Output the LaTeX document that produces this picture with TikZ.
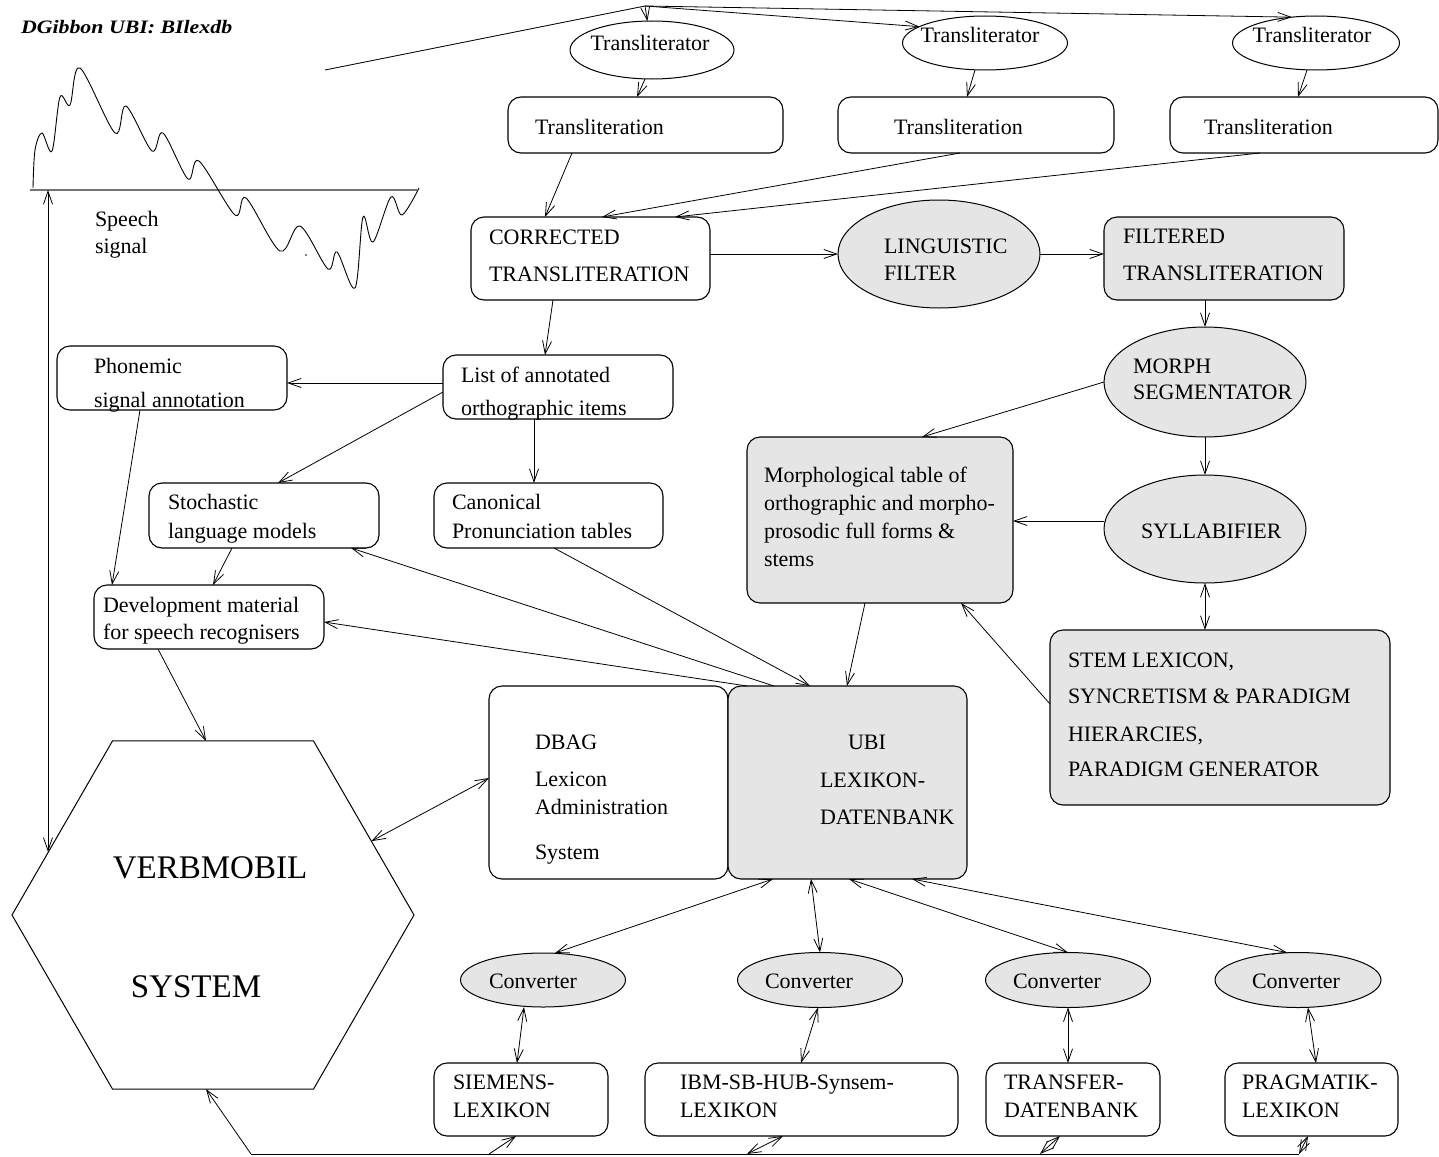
\documentclass[tikz,border=0pt]{standalone}
\usepackage{fontspec}
\setmainfont{Liberation Serif}
\newfontfamily\titlefont[FakeStretch=1.15]{Liberation Serif}
\usetikzlibrary{arrows.meta,shapes.geometric,calc}

\begin{document}
\begin{tikzpicture}[x=1pt,y=-1pt,
  every node/.style={inner sep=0pt,outer sep=0pt},
  >={Straight Barb[length=13pt,width=9pt]},
  conn/.style={line width=0.8pt},
  box/.style={draw,rectangle,rounded corners=13pt,line width=1.1pt},
  shaded/.style={fill=black!10},
  oval/.style={draw,ellipse,line width=1pt},
  txt/.style={anchor=west,font=\fontsize{22pt}{26pt}\selectfont,text height=16pt,text depth=4pt},
  ctxt/.style={anchor=center,font=\fontsize{22pt}{26pt}\selectfont,text height=16pt,text depth=4pt},
  bigtxt/.style={anchor=center,font=\fontsize{33pt}{38pt}\selectfont},
]
\useasboundingbox (0,0) rectangle (1439,1156);

% ---------- title ----------
\node[anchor=west,font=\fontsize{19pt}{22pt}\selectfont\titlefont\bfseries\itshape] (title) at (21,27) {DGibbon UBI: BIlexdb};

% ---------- speech signal ----------
\coordinate (sigL) at (30,190);
\coordinate (sigR) at (417,190);
\coordinate (sig) at (48,190);
\draw[line width=2pt,black!55] (sigL) -- (sigR);
\draw[line width=0.9pt] plot[smooth,tension=0.55] coordinates {
  (33,188) (35,150) (42,133) (52,151) (60,97) (70,105) (80,68) (115,133) (126,106)
  (152,151) (163,133) (188,179) (199,161) (235,215) (246,198) (280,251) (300,226)
  (328,269) (337,252) (355,288) (363,217) (373,242) (391,197) (402,215) (419,188)};
\fill (306,255) circle (0.9pt);
\node[txt] (x-sp1) at (95,220) {Speech};
\node[txt] (x-sp2) at (95,247) {signal};

% ---------- ellipses ----------
\node[oval,minimum width=164pt,minimum height=58pt] (tr1) at (652,50) {};
\node[oval,minimum width=165pt,minimum height=54pt] (tr2) at (985,43) {};
\node[oval,minimum width=167pt,minimum height=54pt] (tr3) at (1316,43) {};
\node[oval,shaded,minimum width=202pt,minimum height=108pt] (ling) at (939,254) {};
\node[oval,shaded,minimum width=202pt,minimum height=110pt] (morph) at (1205,382) {};
\node[oval,shaded,minimum width=202pt,minimum height=108pt] (syl) at (1205,529) {};
\node[oval,shaded,minimum width=165pt,minimum height=54pt] (cv1) at (543,980) {};
\node[oval,shaded,minimum width=165pt,minimum height=55pt] (cv2) at (820,980) {};
\node[oval,shaded,minimum width=165pt,minimum height=55pt] (cv3) at (1068,980) {};
\node[oval,shaded,minimum width=166pt,minimum height=55pt] (cv4) at (1298,980) {};

% ---------- rounded boxes ----------
\node[box,minimum width=275pt,minimum height=56pt] (tl1) at (645.5,125) {};
\node[box,minimum width=276pt,minimum height=56pt] (tl2) at (976,125) {};
\node[box,minimum width=268pt,minimum height=56pt] (tl3) at (1304,125) {};
\node[box,minimum width=239pt,minimum height=83pt] (corr) at (590.5,258.5) {};
\node[box,shaded,minimum width=240pt,minimum height=83pt] (filt) at (1224,258.5) {};
\node[box,minimum width=230pt,minimum height=64pt] (list) at (558,387) {};
\node[box,minimum width=230pt,minimum height=64pt] (phon) at (172,378) {};
\node[box,minimum width=230pt,minimum height=65pt] (stoch) at (264,515.5) {};
\node[box,minimum width=229pt,minimum height=65pt] (canon) at (548.5,515.5) {};
\node[box,minimum width=230pt,minimum height=64pt] (dev) at (209,617) {};
\node[box,shaded,minimum width=266pt,minimum height=166pt] (mtab) at (880,520) {};
\node[box,shaded,minimum width=340pt,minimum height=175pt] (stem) at (1220,717.5) {};
\node[box,minimum width=239pt,minimum height=193pt] (dbag) at (608.5,782.5) {};
\node[box,shaded,minimum width=239pt,minimum height=193pt] (ubi) at (847.5,782.5) {};
\node[box,minimum width=174pt,minimum height=73pt] (siem) at (521,1099.5) {};
\node[box,minimum width=313pt,minimum height=73pt] (ibm) at (801.5,1099.5) {};
\node[box,minimum width=174pt,minimum height=73pt] (trans) at (1073,1099.5) {};
\node[box,minimum width=173pt,minimum height=73pt] (prag) at (1311.5,1099.5) {};

% ---------- hexagon ----------
\node[draw,regular polygon,regular polygon sides=6,minimum size=402pt,line width=1pt] (vm) at (213,915) {};

% ---------- texts ----------
\node[ctxt] (x-tr1) at (650,45) {Transliterator};
\node[ctxt] (x-tr2) at (980,36) {Transliterator};
\node[ctxt] (x-tr3) at (1312,36) {Transliterator};
\node[txt] (x-tl1) at (535,128) {Transliteration};
\node[txt] (x-tl2) at (894,128) {Transliteration};
\node[txt] (x-tl3) at (1204,128) {Transliteration};
\node[txt] (x-corr1) at (489,238) {CORRECTED};
\node[txt] (x-corr2) at (489,275) {TRANSLITERATION};
\node[txt] (x-ling1) at (884,247) {LINGUISTIC};
\node[txt] (x-ling2) at (884,274) {FILTER};
\node[txt] (x-filt1) at (1123,237) {FILTERED};
\node[txt] (x-filt2) at (1123,274) {TRANSLITERATION};
\node[txt] (x-morph1) at (1133,367) {MORPH};
\node[txt] (x-morph2) at (1133,393) {SEGMENTATOR};
\node[txt] (x-syl) at (1141,532) {SYLLABIFIER};
\node[txt] (x-list1) at (461,376) {List of annotated};
\node[txt] (x-list2) at (461,409) {orthographic items};
\node[txt] (x-phon1) at (94,367) {Phonemic};
\node[txt] (x-phon2) at (94,401) {signal annotation};
\node[txt] (x-stoch1) at (168,503) {Stochastic};
\node[txt] (x-stoch2) at (168,532) {language models};
\node[txt] (x-canon1) at (452,503) {Canonical};
\node[txt] (x-canon2) at (452,532) {Pronunciation tables};
\node[txt] (x-dev1) at (103,606) {Development material};
\node[txt] (x-dev2) at (103,633) {for speech recognisers};
\node[txt] (x-mtab1) at (764,476) {Morphological table of};
\node[txt] (x-mtab2) at (764,504) {orthographic and morpho-};
\node[txt] (x-mtab3) at (764,532) {prosodic full forms \&};
\node[txt] (x-mtab4) at (764,560) {stems};
\node[txt] (x-stem1) at (1068,661) {STEM LEXICON,};
\node[txt] (x-stem2) at (1068,697) {SYNCRETISM \& PARADIGM};
\node[txt] (x-stem3) at (1068,735) {HIERARCIES,};
\node[txt] (x-stem4) at (1068,770) {PARADIGM GENERATOR};
\node[txt] (x-ubi1) at (848,743) {UBI};
\node[txt] (x-ubi2) at (820,781) {LEXIKON-};
\node[txt] (x-ubi3) at (820,818) {DATENBANK};
\node[txt] (x-dbag1) at (535,743) {DBAG};
\node[txt] (x-dbag2) at (535,780) {Lexicon};
\node[txt] (x-dbag3) at (535,808) {Administration};
\node[txt] (x-dbag4) at (535,853) {System};
\node[bigtxt] (x-vm1) at (210,868) {VERBMOBIL};
\node[bigtxt] (x-vm2) at (196,987) {SYSTEM};
\node[ctxt] (x-cv1) at (533,982) {Converter};
\node[ctxt] (x-cv2) at (809,982) {Converter};
\node[ctxt] (x-cv3) at (1057,982) {Converter};
\node[ctxt] (x-cv4) at (1296,982) {Converter};
\node[txt] (x-siem1) at (453,1083) {SIEMENS-};
\node[txt] (x-siem2) at (453,1111) {LEXIKON};
\node[txt] (x-ibm1) at (680,1083) {IBM-SB-HUB-Synsem-};
\node[txt] (x-ibm2) at (680,1111) {LEXIKON};
\node[txt] (x-trans1) at (1004,1083) {TRANSFER-};
\node[txt] (x-trans2) at (1004,1111) {DATENBANK};
\node[txt] (x-prag1) at (1242,1083) {PRAGMATIK-};
\node[txt] (x-prag2) at (1242,1111) {LEXIKON};

% ---------- connectors: transliteration ----------
\coordinate (tstart) at (325,70);
\coordinate (apex) at (645,6);
\draw[conn] (tstart) -- (apex);
\draw[conn,->] (apex) -- (tr1);
\draw[conn,->] (apex) -- (tr2.166);
\draw[conn,->] (apex) -- (tr3.133);
\draw[conn,->] ([xshift=-7pt]tr1.south) -- ($(tl1.north west)+(129,0)$);
\draw[conn,->] ([xshift=-10pt]tr2.south) -- ($(tl2.north west)+(129,0)$);
\draw[conn,->] ([xshift=-9pt]tr3.south) -- ($(tl3.north west)+(128,0)$);
\draw[conn,->] ($(tl1.south west)+(64,0)$) -- ($(corr.north west)+(74,0)$);
\draw[conn,->] ($(tl2.south west)+(122,0)$) -- ($(corr.north west)+(131,0)$);
\draw[conn,->] ($(tl3.south west)+(90,0)$) -- ($(corr.north west)+(204,0)$);

% ---------- connectors: filter chain ----------
\draw[conn,->] (corr.east |- ling.west) -- (ling.west);
\draw[conn,->] (ling.east) -- (filt.west |- ling.east);
\draw[conn,->] (morph.north |- filt.south) -- (morph.north);
\draw[conn,->] (morph.south) -- (syl.north);
\draw[conn,->] (morph.west) -- ($(mtab.north west)+(175,0)$);
\coordinate (sylw) at ([yshift=8pt]syl.west);
\draw[conn,->] (sylw) -- (sylw -| mtab.east);
\draw[conn,<->] (syl.south) -- (syl.south |- stem.north);
\draw[conn,->] ($(stem.north west)+(0,74)$) -- ($(mtab.south west)+(214,0)$);
\draw[conn,->] ($(mtab.south west)+(118,0)$) -- ($(ubi.north west)+(119,0)$);

% ---------- connectors: annotation chain ----------
\draw[conn,->] ($(corr.south west)+(82,0)$) -- ($(list.north west)+(102,0)$);
\draw[conn,->] ($(list.north west)+(0,28)$) -- ($(phon.north east)+(0,37)$);
\draw[conn,->] ($(list.north west)+(0,37)$) -- ($(stoch.north west)+(129,0)$);
\draw[conn,->] ($(list.south west)+(91,0)$) -- ($(canon.north west)+(100,0)$);
\draw[conn,->] ($(phon.south west)+(83,0)$) -- ($(dev.north west)+(18,0)$);
\draw[conn,->] ($(stoch.south west)+(83,0)$) -- ($(dev.north west)+(119,0)$);
\draw[conn,->] ($(canon.south west)+(120,0)$) -- ($(ubi.north west)+(82,0)$);
\draw[conn,->] ($(ubi.north west)+(46,0)$) -- ($(stoch.south west)+(202,0)$);
\draw[conn,->] ($(ubi.north west)+(19,0)$) -- ($(dev.north east)+(0,37)$);
\draw[conn,->] ($(dev.south west)+(64,0)$) -- ([xshift=-7pt]vm.north);

% ---------- connectors: system ----------
\draw[conn,<->] (sig |- vm.159) -- (sig);
\draw[conn,<->] (vm.25) -- ($(dbag.north west)+(0,92)$);

% ---------- connectors: converters ----------
\draw[conn,<->] ($(ubi.south west)+(45,0)$) -- ([xshift=12pt]cv1.north);
\draw[conn,<->] ($(ubi.south west)+(83,0)$) -- (cv2.north);
\draw[conn,<->] ($(ubi.south west)+(121,0)$) -- (cv3.north);
\draw[conn,<->] ($(ubi.south west)+(184,0)$) -- ([xshift=-11pt]cv4.north);
\draw[conn,<->] ([xshift=-19pt]cv1.south) -- ($(siem.north west)+(83,0)$);
\draw[conn,<->] ([xshift=-2pt]cv2.south) -- ($(ibm.north west)+(156,0)$);
\draw[conn,<->] (cv3.south) -- ($(trans.north west)+(82,0)$);
\draw[conn,<->] ([xshift=10pt]cv4.south) -- ($(prag.north west)+(91,0)$);

% ---------- bottom return line ----------
\coordinate (bl) at (251,1154);
\coordinate (b1) at (489,1154);
\coordinate (b2) at (747,1154);
\coordinate (b3) at (1040,1154);
\coordinate (br) at (1299,1154);
\draw[conn,->] (bl) -- ([xshift=-7pt]vm.south);
\draw[conn] (bl) -- (br);
\draw[conn,->] (b1) -- ($(siem.south west)+(82,0)$);
\draw[conn,<->] (b2) -- ($(ibm.south west)+(138,0)$);
\draw[conn,<->] (b3) -- ($(trans.south west)+(74,0)$);
\draw[conn,<->] (br) -- ($(prag.south west)+(83,0)$);
\end{tikzpicture}
\end{document}
